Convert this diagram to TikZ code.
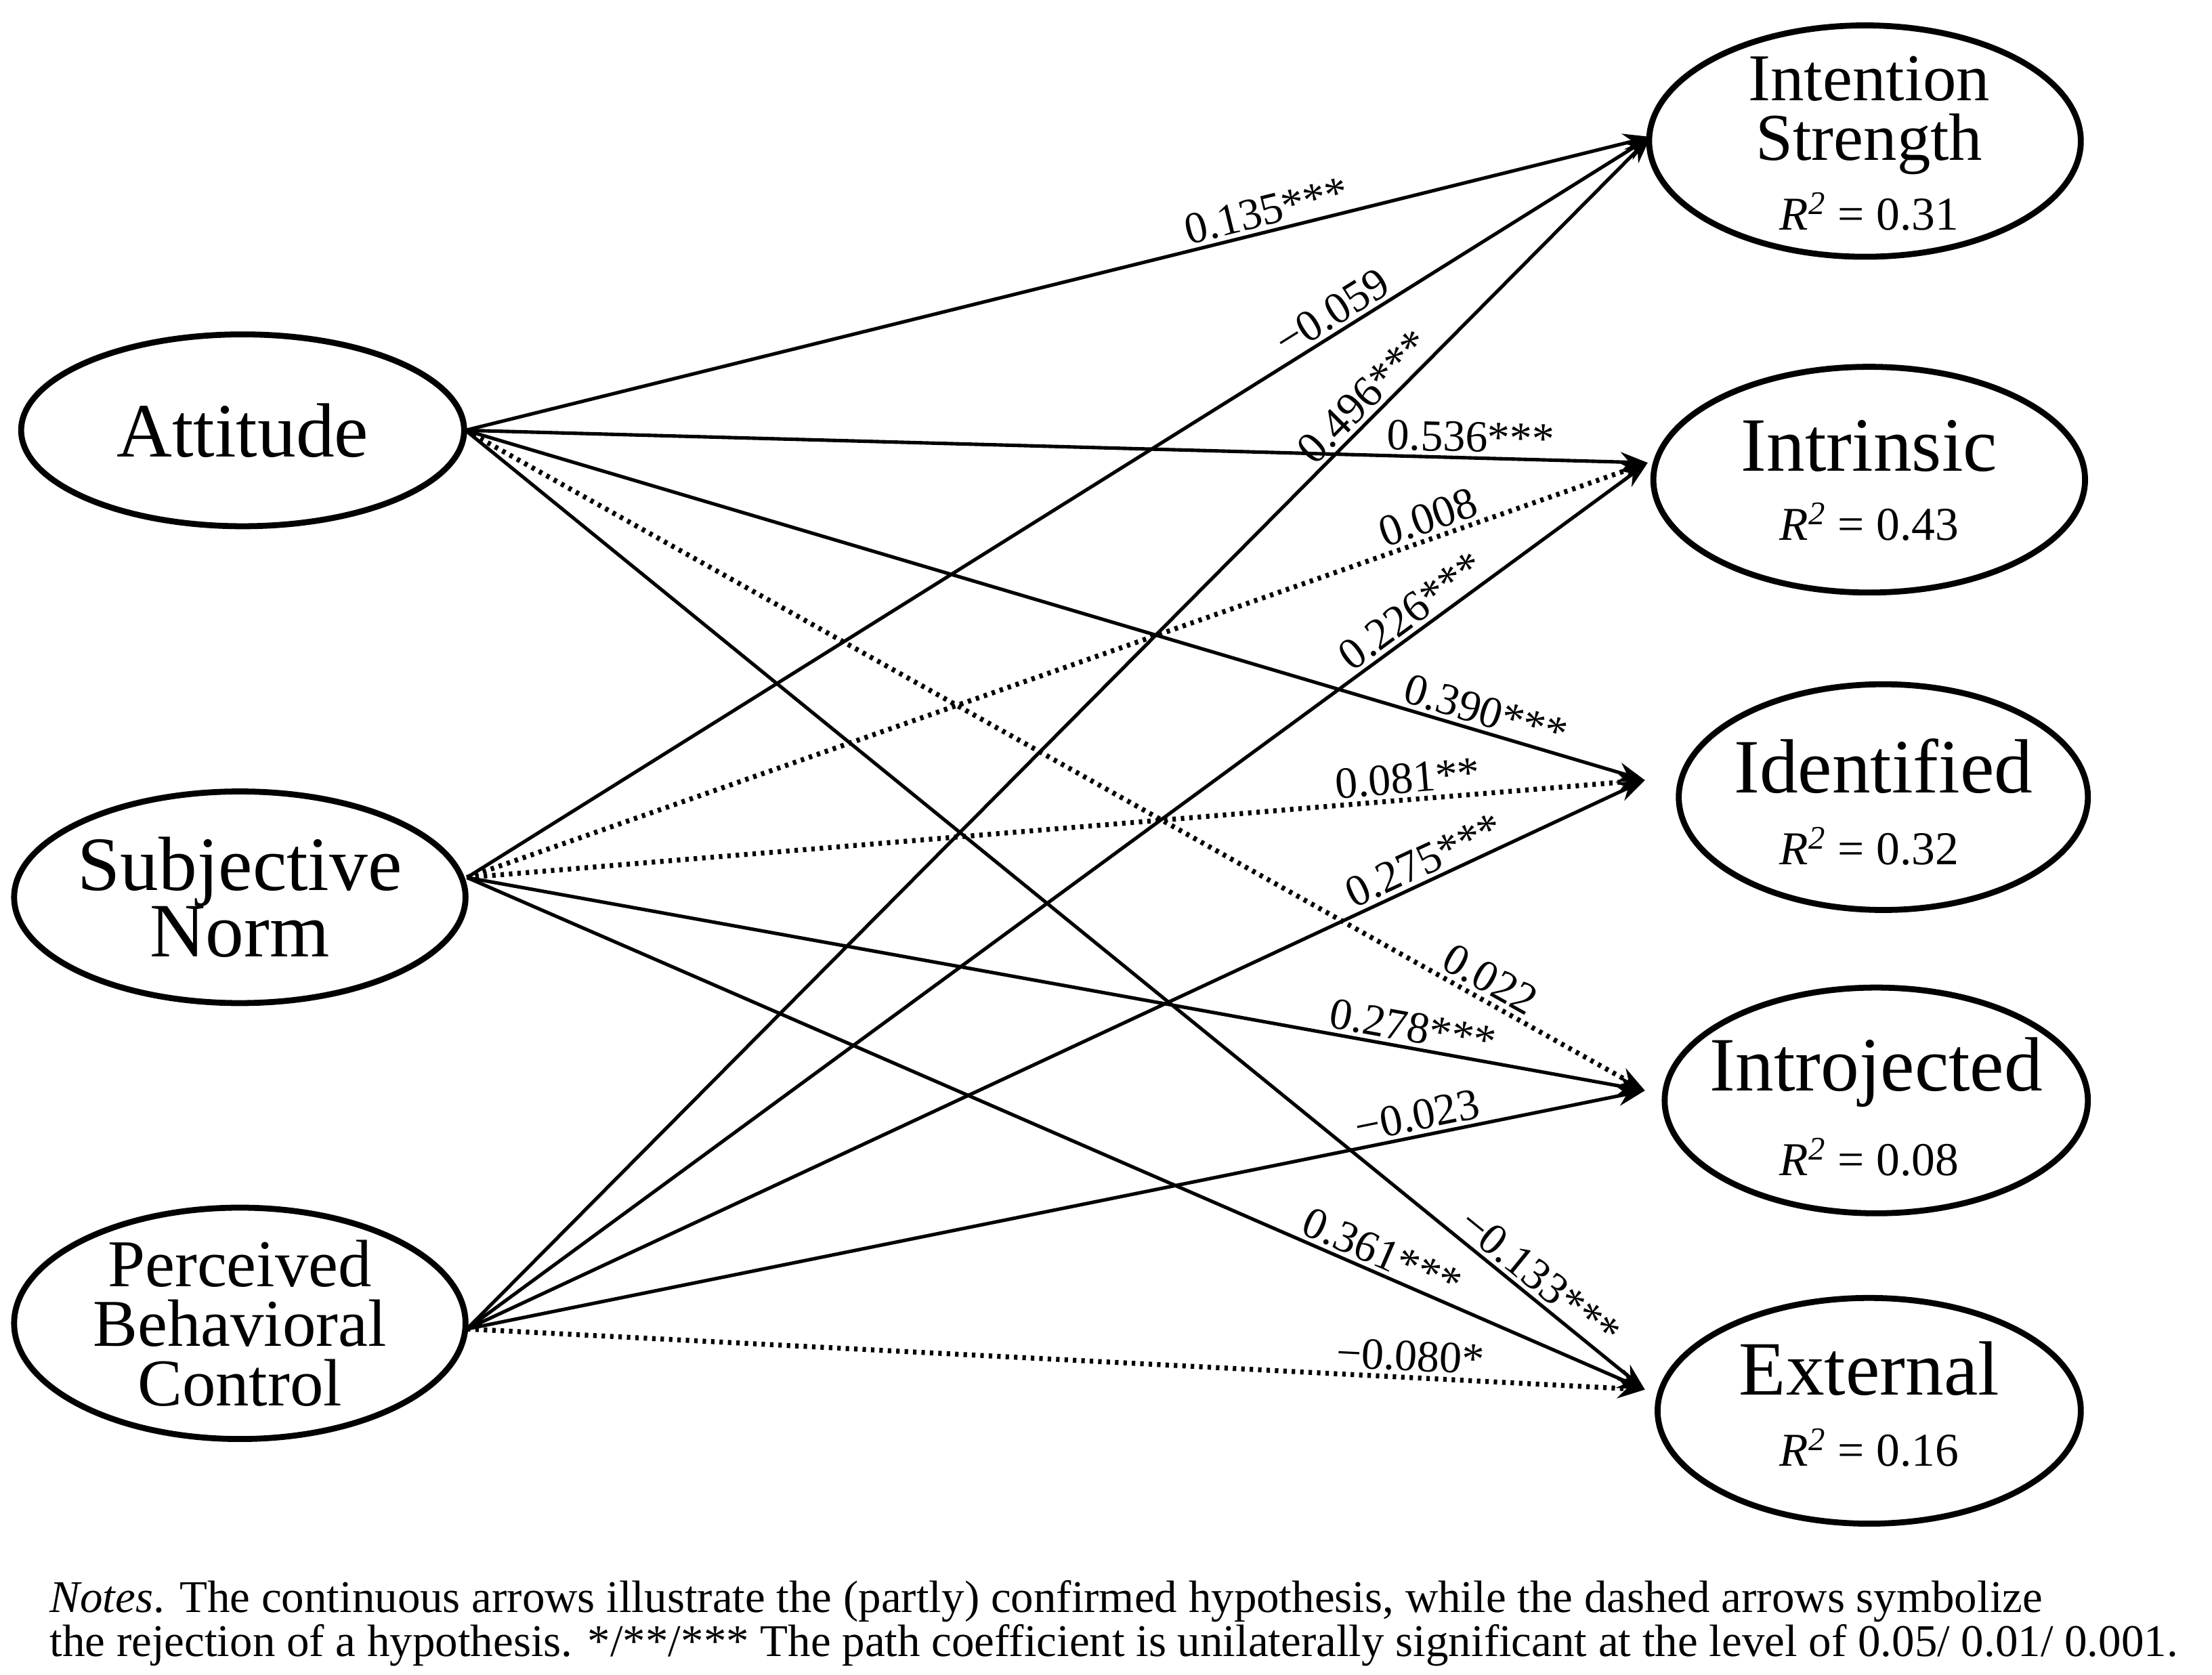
\documentclass[tikz,border=0pt]{standalone}
\usepackage{fontspec}
\setmainfont{Liberation Serif}
\usetikzlibrary{arrows.meta}
\begin{document}
\begin{tikzpicture}[x=0.02cm,y=-0.02cm,
  ar/.style={line width=1.4pt,-{Stealth[length=11pt,width=8pt]}},
  dt/.style={ar,dotted,line width=2pt},
  lb/.style={sloped,above,inner sep=1.5pt,font=\fontsize{18}{18}\selectfont}]
\useasboundingbox (0,0) rectangle (1568,1187);
\tikzset{big/.style={font=\fontsize{31}{31}\selectfont},
  mid/.style={font=\fontsize{27}{24}\selectfont},
  rr/.style={font=\fontsize{19}{19}\selectfont}}
\draw[line width=2.4pt] (172,305) ellipse (157 and 68);
\node[big] (att) at (172,305) {Attitude};
\draw[line width=2.4pt] (170,636) ellipse (160 and 75);
\node[big,align=center] (sn) at (170,636) {Subjective\\[-4pt]Norm};
\draw[line width=2.4pt] (170,938) ellipse (160 and 82);
\node[mid,align=center] (pbc) at (170,938) {Perceived\\Behavioral\\Control};
\draw[line width=2.4pt] (1322,100) ellipse (153 and 82);
\node[mid,align=center] (is) at (1325,82) {Intention\\Strength};
\node[rr] (isr) at (1325,150) {\textit{R\textsuperscript{2}} = 0.31};
\draw[line width=2.4pt] (1325,340) ellipse (153 and 80);
\node[big] (intr) at (1325,316) {Intrinsic};
\node[rr] (intrr) at (1325,370) {\textit{R\textsuperscript{2}} = 0.43};
\draw[line width=2.4pt] (1335,565) ellipse (145 and 80);
\node[big] (ide) at (1335,543) {Identified};
\node[rr] (ider) at (1325,600) {\textit{R\textsuperscript{2}} = 0.32};
\draw[line width=2.4pt] (1330,780) ellipse (150 and 80);
\node[big] (inj) at (1330,760) {Introjected};
\node[rr] (injr) at (1325,820) {\textit{R\textsuperscript{2}} = 0.08};
\draw[line width=2.4pt] (1325,1000) ellipse (150 and 80);
\node[big] (ext) at (1325,970) {External};
\node[rr] (extr) at (1325,1026) {\textit{R\textsuperscript{2}} = 0.16};
\coordinate (a) at (330,305);
\coordinate (s) at (331,622);
\coordinate (p) at (331,942);
\coordinate (t1) at (1170,97);
\coordinate (t2) at (1168,328);
\coordinate (t3) at (1166,553);
\coordinate (t4) at (1166,773);
\coordinate (t5) at (1166,985);
\draw[ar] (a) -- node[lb,pos=0.68]{0.135***} (t1);
\draw[ar] (s) -- node[lb,pos=0.74]{−0.059} (t1);
\draw[ar] (p) -- node[lb,pos=0.77]{0.496***} (t1);
\draw[ar] (a) -- node[lb,pos=0.85]{0.536***} (t2);
\draw[dt] (s) -- node[lb,pos=0.82]{0.008} (t2);
\draw[ar] (p) -- node[lb,pos=0.81]{0.226***} (t2);
\draw[ar] (a) -- node[lb,pos=0.86]{0.390***} (t3);
\draw[dt] (s) -- node[lb,pos=0.80]{0.081**} (t3);
\draw[ar] (p) -- node[lb,pos=0.82]{0.275***} (t3);
\draw[dt] (a) -- node[lb,pos=0.86]{0.022} (t4);
\draw[ar] (s) -- node[lb,pos=0.80]{0.278***} (t4);
\draw[ar] (p) -- node[lb,pos=0.81]{−0.023} (t4);
\draw[ar] (a) -- node[lb,pos=0.90]{−0.133***} (t5);
\draw[ar] (s) -- node[lb,pos=0.77]{0.361***} (t5);
\draw[dt] (p) -- node[lb,pos=0.80]{−0.080*} (t5);
\node[anchor=west,font=\fontsize{18.3}{18.3}\selectfont,inner sep=0] (n1) at (35,1135) {\textit{Notes}. The continuous arrows illustrate the (partly) confirmed hypothesis, while the dashed arrows symbolize};
\node[anchor=west,font=\fontsize{18.3}{18.3}\selectfont,inner sep=0] (n2) at (35,1166) {the rejection of a hypothesis. */**/*** The path coefficient is unilaterally significant at the level of 0.05/ 0.01/ 0.001.};
\end{tikzpicture}
\end{document}
